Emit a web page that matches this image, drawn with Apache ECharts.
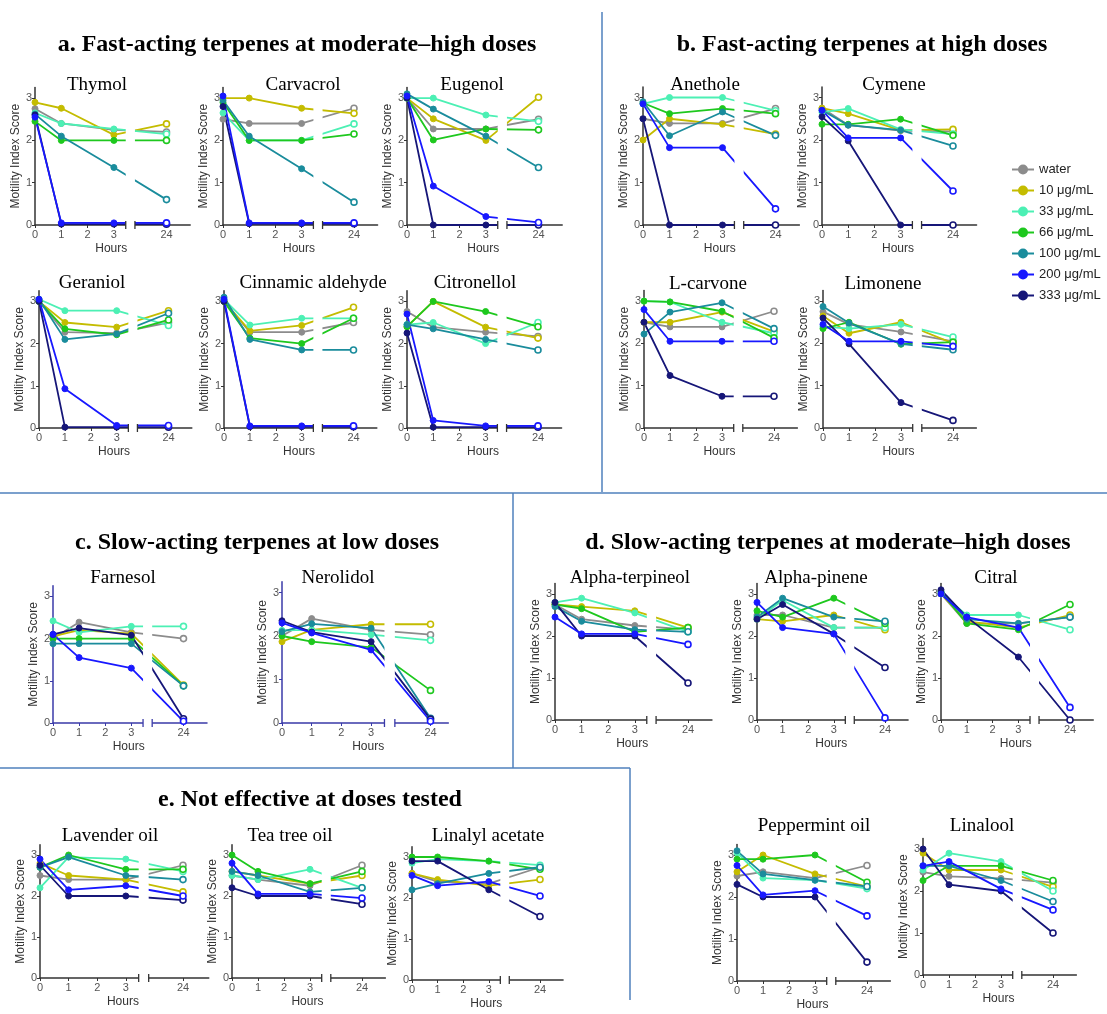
<!DOCTYPE html>
<html>
<head>
<meta charset="utf-8">
<script src="https://cdn.jsdelivr.net/npm/echarts@6/dist/echarts.min.js"></script>
<style>
  html, body { margin: 0; padding: 0; background: #fff; }
  #main { width: 1107px; height: 1014px; }
</style>
</head>
<body>
<div id="main"></div>
<script>
// doses (legend) and time points
var doses = ['water', '10 μg/mL', '33 μg/mL', '66 μg/mL', '100 μg/mL', '200 μg/mL', '333 μg/mL'];
var doseColors = ['#8c8c8c', '#c4bc00', '#4cf0b4', '#1ec81e', '#1a8c9c', '#1818ff', '#161678'];
var hours = [0, 1, 3, 24];
var hourTicks = [0, 1, 2, 3, 24];

// motility scores, one row per dose (water .. 333), values at 0, 1, 3, 24 h
var thymol = [
  [2.75, 2.4, 2.25, 2.2], [2.9, 2.76, 2.13, 2.39], [2.65, 2.4, 2.27, 2.15], [2.45, 2.0, 2.0, 2.0],
  [2.62, 2.1, 1.36, 0.6], [2.55, 0.05, 0.05, 0.05], [2.6, 0.02, 0.02, 0.02]];
var carvacrol = [
  [2.5, 2.4, 2.4, 2.76], [3.0, 3.0, 2.76, 2.64], [2.65, 2.0, 2.0, 2.39], [2.9, 2.0, 2.0, 2.15],
  [2.95, 2.1, 1.33, 0.54], [3.05, 0.05, 0.05, 0.05], [2.8, 0.03, 0.03, 0.03]];
var eugenol = [
  [3.0, 2.27, 2.27, 2.5], [3.0, 2.51, 2.0, 3.02], [3.0, 3.0, 2.6, 2.45], [3.0, 2.01, 2.27, 2.25],
  [3.1, 2.74, 2.1, 1.36], [3.05, 0.92, 0.2, 0.06], [3.0, 0.0, 0.0, 0.0]];
var geraniol = [
  [3.0, 2.27, 2.25, 2.5], [3.0, 2.5, 2.39, 2.78], [3.05, 2.78, 2.78, 2.43], [3.0, 2.35, 2.21, 2.56],
  [3.05, 2.1, 2.23, 2.72], [3.05, 0.93, 0.06, 0.06], [3.0, 0.02, 0.02, 0.02]];
var cinnamic = [
  [3.0, 2.27, 2.27, 2.5], [3.0, 2.3, 2.43, 2.86], [3.05, 2.44, 2.6, 2.6], [3.0, 2.13, 2.0, 2.6],
  [3.1, 2.1, 1.85, 1.85], [3.05, 0.05, 0.05, 0.05], [3.0, 0.03, 0.03, 0.03]];
var citronellol = [
  [2.76, 2.39, 2.27, 2.17], [2.4, 3.0, 2.39, 2.13], [2.45, 2.5, 2.0, 2.5], [2.4, 3.0, 2.76, 2.4],
  [2.45, 2.35, 2.1, 1.85], [2.7, 0.18, 0.05, 0.05], [2.25, 0.02, 0.02, 0.02]];
var anethole = [
  [2.5, 2.39, 2.39, 2.74], [2.0, 2.5, 2.37, 2.14], [2.85, 3.0, 3.0, 2.69], [2.87, 2.62, 2.74, 2.62],
  [2.9, 2.1, 2.66, 2.11], [2.85, 1.82, 1.82, 0.38], [2.5, 0.0, 0.0, 0.0]];
var cymene = [
  [2.75, 2.35, 2.22, 2.2], [2.75, 2.62, 2.23, 2.25], [2.65, 2.74, 2.25, 2.14], [2.37, 2.37, 2.49, 2.11],
  [2.7, 2.35, 2.23, 1.86], [2.7, 2.05, 2.05, 0.8], [2.55, 1.98, 0.0, 0.0]];
var lCarvone = [
  [2.5, 2.39, 2.39, 2.76], [2.5, 2.5, 2.74, 2.28], [3.0, 2.98, 2.5, 2.24], [3.0, 2.98, 2.76, 2.13],
  [2.22, 2.74, 2.96, 2.35], [2.8, 2.05, 2.05, 2.05], [2.5, 1.24, 0.75, 0.75]];
var limonene = [
  [2.75, 2.45, 2.27, 2.05], [2.65, 2.24, 2.5, 2.0], [2.4, 2.35, 2.45, 2.15], [2.35, 2.5, 1.98, 2.03],
  [2.87, 2.48, 1.99, 1.85], [2.45, 2.05, 2.05, 1.93], [2.6, 1.99, 0.6, 0.18]];
var farnesol = [
  [2.0, 2.39, 2.15, 2.0], [2.05, 2.2, 2.12, 0.9], [2.42, 2.15, 2.29, 2.29], [2.0, 2.0, 2.0, 0.88],
  [1.88, 1.88, 1.88, 0.88], [2.1, 1.55, 1.3, 0.04], [2.1, 2.25, 2.08, 0.1]];
var nerolidol = [
  [2.0, 2.4, 2.14, 2.03], [1.87, 2.14, 2.27, 2.27], [2.13, 2.14, 2.03, 1.9], [2.0, 1.87, 1.74, 0.75],
  [2.1, 2.28, 2.18, 0.11], [2.3, 2.07, 1.68, 0.04], [2.35, 2.09, 1.87, 0.09]];
var alphaTerpineol = [
  [2.75, 2.4, 2.25, 2.15], [2.75, 2.7, 2.6, 2.2], [2.8, 2.9, 2.55, 2.1], [2.75, 2.65, 2.1, 2.2],
  [2.7, 2.35, 2.15, 2.1], [2.45, 2.05, 2.05, 1.8], [2.8, 2.0, 2.0, 0.88]];
var alphaPinene = [
  [2.5, 2.5, 2.2, 2.2], [2.4, 2.35, 2.5, 2.15], [2.4, 2.85, 2.2, 2.2], [2.6, 2.45, 2.9, 2.3],
  [2.45, 2.9, 2.45, 2.35], [2.8, 2.2, 2.05, 0.05], [2.4, 2.75, 2.05, 1.25]];
var citral = [
  [3.0, 2.3, 2.3, 2.45], [3.0, 2.35, 2.2, 2.5], [3.0, 2.5, 2.5, 2.15], [3.05, 2.3, 2.15, 2.75],
  [3.05, 2.4, 2.3, 2.45], [3.0, 2.45, 2.2, 0.3], [3.1, 2.45, 1.5, 0.0]];
var lavender = [
  [2.5, 2.4, 2.4, 2.75], [2.8, 2.5, 2.4, 2.1], [2.2, 2.95, 2.9, 2.6], [2.7, 3.0, 2.65, 2.65],
  [2.7, 2.95, 2.5, 2.4], [2.9, 2.15, 2.25, 2.0], [2.75, 2.0, 2.0, 1.9]];
var teaTree = [
  [2.5, 2.4, 2.25, 2.75], [2.6, 2.5, 2.3, 2.5], [2.5, 2.4, 2.65, 2.2], [3.0, 2.6, 2.3, 2.6],
  [2.6, 2.5, 2.1, 2.2], [2.8, 2.05, 2.05, 1.95], [2.2, 2.0, 2.0, 1.8]];
var linalylAcetate = [
  [2.6, 2.4, 2.35, 2.75], [2.6, 2.45, 2.3, 2.45], [2.85, 2.95, 2.9, 2.8], [3.0, 3.0, 2.9, 2.7],
  [2.2, 2.35, 2.6, 2.75], [2.55, 2.3, 2.4, 2.05], [2.9, 2.9, 2.2, 1.55]];
var peppermint = [
  [2.5, 2.6, 2.45, 2.75], [2.6, 3.0, 2.55, 2.25], [3.05, 2.45, 2.4, 2.2], [2.9, 2.9, 3.0, 2.35],
  [3.1, 2.55, 2.4, 2.25], [2.75, 2.05, 2.15, 1.55], [2.3, 2.0, 2.0, 0.45]];
var linalool = [
  [2.45, 2.35, 2.3, 2.2], [2.9, 2.5, 2.5, 2.1], [2.5, 2.9, 2.7, 2.0], [2.25, 2.6, 2.6, 2.25],
  [2.6, 2.6, 2.25, 1.75], [2.6, 2.7, 2.05, 1.55], [3.0, 2.15, 2.0, 1.0]];

// panel layout: y-axis x, zero line y, px per hour-step, px per score unit, title centre
var BLUE_AXIS = '#3a3aa8';
var panels = [
  {name: 'Thymol', data: thymol, left: 35, y0: 225, ux: 26.3, uy: 42.3, tx: 97, ty: 85},
  {name: 'Carvacrol', data: carvacrol, left: 223, y0: 225, ux: 26.2, uy: 42.3, tx: 303, ty: 85},
  {name: 'Eugenol', data: eugenol, left: 407, y0: 225, ux: 26.3, uy: 42.3, tx: 472, ty: 85},
  {name: 'Geraniol', data: geraniol, left: 39, y0: 428, ux: 25.9, uy: 42.2, tx: 92, ty: 283},
  {name: 'Cinnamic aldehyde', data: cinnamic, left: 224, y0: 428, ux: 25.9, uy: 42.2, tx: 313, ty: 283},
  {name: 'Citronellol', data: citronellol, left: 407, y0: 428, ux: 26.2, uy: 42.2, tx: 475, ty: 283},
  {name: 'Anethole', data: anethole, left: 643, y0: 225, ux: 26.5, uy: 42.5, tx: 705, ty: 85},
  {name: 'Cymene', data: cymene, left: 822, y0: 225, ux: 26.2, uy: 42.5, tx: 894, ty: 85},
  {name: 'L-carvone', data: lCarvone, left: 644, y0: 428, ux: 26.0, uy: 42.3, tx: 708, ty: 284},
  {name: 'Limonene', data: limonene, left: 823, y0: 428, ux: 26.0, uy: 42.3, tx: 883, ty: 284},
  {name: 'Farnesol', data: farnesol, left: 53, y0: 723, ux: 26.1, uy: 42.2, tx: 123, ty: 578, axis: BLUE_AXIS},
  {name: 'Nerolidol', data: nerolidol, left: 282, y0: 723, ux: 29.7, uy: 43.5, tx: 338, ty: 578, axis: BLUE_AXIS, xMax: 5.6},
  {name: 'Alpha-terpineol', data: alphaTerpineol, left: 555, y0: 720, ux: 26.6, uy: 42, tx: 630, ty: 578},
  {name: 'Alpha-pinene', data: alphaPinene, left: 757, y0: 720, ux: 25.6, uy: 42, tx: 816, ty: 578},
  {name: 'Citral', data: citral, left: 941, y0: 720, ux: 25.8, uy: 42, tx: 996, ty: 578},
  {name: 'Lavender oil', data: lavender, left: 40, y0: 978, ux: 28.6, uy: 41, tx: 110, ty: 836},
  {name: 'Tea tree oil', data: teaTree, left: 232, y0: 978, ux: 26, uy: 41, tx: 290, ty: 836},
  {name: 'Linalyl acetate', data: linalylAcetate, left: 412, y0: 980, ux: 25.6, uy: 41, tx: 488, ty: 836},
  {name: 'Peppermint oil', data: peppermint, left: 737, y0: 981, ux: 26, uy: 42, tx: 814, ty: 826},
  {name: 'Linalool', data: linalool, left: 923, y0: 975, ux: 26, uy: 42, tx: 982, ty: 826}
];

var sections = [
  {text: 'a. Fast-acting terpenes at moderate\u2013high doses', x: 297, y: 45},
  {text: 'b. Fast-acting terpenes at high doses', x: 862, y: 45},
  {text: 'c. Slow-acting terpenes at low doses', x: 257, y: 543},
  {text: 'd. Slow-acting terpenes at moderate\u2013high doses', x: 828, y: 543},
  {text: 'e. Not effective at doses tested', x: 310, y: 800}
];

var Y_MAX = 3.25;
var X_MAX = 5.9;
var BREAK = [3.45, 3.8];
var SANS = '"Liberation Sans", Arial, sans-serif';
var SERIF = '"Liberation Serif", serif';

// the 24 h point sits after the axis break
function hourPos(h) { return h === 24 ? 5 : h; }
var tickPos = hourTicks.map(hourPos);

var grids = [], xAxes = [], yAxes = [], series = [];
var graphics = [];

// draw order: 200 on top
var drawOrder = [0, 1, 2, 3, 4, 6, 5];

panels.forEach(function (p, i) {
  var axisCol = p.axis || '#333';
  var xMax = p.xMax || X_MAX;
  grids.push({left: p.left, top: p.y0 - Y_MAX * p.uy, width: xMax * p.ux, height: Y_MAX * p.uy});
  xAxes.push({
    gridIndex: i, type: 'value', min: 0, max: xMax,
    axisLine: {lineStyle: {color: axisCol, width: 1.5}},
    axisTick: {customValues: tickPos, length: 3, lineStyle: {color: axisCol}},
    axisLabel: {
      customValues: tickPos, margin: 4, fontSize: 11, fontFamily: SANS, color: '#555',
      formatter: function (v) { return String(hourTicks[tickPos.indexOf(v)]); }
    },
    splitLine: {show: false}
  });
  yAxes.push({
    gridIndex: i, type: 'value', min: 0, max: Y_MAX,
    name: 'Motility Index Score', nameLocation: 'middle', nameGap: 8,
    nameTextStyle: {fontSize: 12, fontFamily: SANS, color: '#333'},
    axisLine: {show: true, lineStyle: {color: axisCol, width: 1.5}},
    axisTick: {show: true, customValues: [0, 1, 2, 3], length: 3, lineStyle: {color: axisCol}},
    axisLabel: {customValues: [0, 1, 2, 3], margin: 3, fontSize: 11, fontFamily: SANS, color: '#555'},
    splitLine: {show: false}
  });

  drawOrder.forEach(function (d) {
    var col = doseColors[d];
    series.push({
      type: 'line', name: doses[d], xAxisIndex: i, yAxisIndex: i,
      symbol: 'circle', symbolSize: 6,
      lineStyle: {color: col, width: 1.8},
      itemStyle: {color: col, borderColor: col, borderWidth: 1},
      data: hours.map(function (h, k) {
        var item = {value: [hourPos(h), p.data[d][k]]};
        if (h === 24) item.itemStyle = {color: '#fff', borderColor: col, borderWidth: 1.6};
        return item;
      }),
      animation: false, silent: true
    });
  });

  // white band + caps marking the axis break between 3 h and 24 h
  series.push({
    type: 'custom', xAxisIndex: i, yAxisIndex: i, z: 10, silent: true, clip: false,
    data: [BREAK],
    renderItem: function (params, api) {
      var a = api.coord([api.value(0), Y_MAX]);
      var b = api.coord([api.value(1), 0]);
      return {
        type: 'group',
        children: [
          {type: 'rect', shape: {x: a[0], y: a[1], width: b[0] - a[0], height: b[1] - a[1] + 2}, style: {fill: '#fff'}},
          {type: 'line', shape: {x1: a[0], y1: b[1] - 4, x2: a[0], y2: b[1] + 4}, style: {stroke: axisCol, lineWidth: 1.3}},
          {type: 'line', shape: {x1: b[0], y1: b[1] - 4, x2: b[0], y2: b[1] + 4}, style: {stroke: axisCol, lineWidth: 1.3}}
        ]
      };
    },
    animation: false
  });

  graphics.push({
    type: 'text', x: p.tx, y: p.ty, z: 100,
    style: {text: p.name, font: '19px ' + SERIF, fill: '#000', align: 'center', verticalAlign: 'middle'}
  });
  graphics.push({
    type: 'text', x: p.left + 2.9 * p.ux, y: p.y0 + 24, z: 100,
    style: {text: 'Hours', font: '12px ' + SANS, fill: '#333', align: 'center', verticalAlign: 'middle'}
  });
});

sections.forEach(function (s) {
  graphics.push({
    type: 'text', x: s.x, y: s.y, z: 100,
    style: {text: s.text, font: 'bold 24px ' + SERIF, fill: '#000', align: 'center', verticalAlign: 'middle'}
  });
});

// section dividers
var dividers = [
  [602, 12, 602, 492],
  [0, 493, 1107, 493],
  [513, 493, 513, 768],
  [0, 768, 630, 768],
  [630, 768, 630, 1000]
];
dividers.forEach(function (l) {
  graphics.push({
    type: 'line', shape: {x1: l[0], y1: l[1], x2: l[2], y2: l[3]}, z: 100,
    style: {stroke: '#4f81bd', lineWidth: 1.5}
  });
});

var chart = echarts.init(document.getElementById('main'));
chart.setOption({
  animation: false,
  grid: grids,
  xAxis: xAxes,
  yAxis: yAxes,
  legend: {
    data: doses, orient: 'vertical', left: 1006, top: 158,
    itemWidth: 22, itemHeight: 10, itemGap: 8, selectedMode: false,
    textStyle: {fontSize: 13, fontFamily: SANS, color: '#222'}
  },
  series: series,
  graphic: {elements: graphics}
});
</script>
</body>
</html>
